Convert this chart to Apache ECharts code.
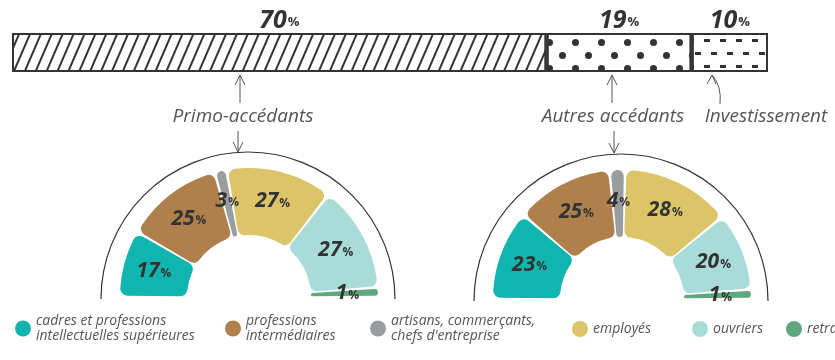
<!DOCTYPE html>
<html>
<head>
<meta charset="utf-8">
<script src="https://cdn.jsdelivr.net/npm/echarts@6/dist/echarts.min.js"></script>
<style>
  html, body { margin: 0; padding: 0; background: #fff; }
  #chart { width: 835px; height: 360px; }
</style>
</head>
<body>
<div id="chart"></div>
<script>
// Socio-professional categories of buyers
const categories = [
  'cadres et professions\nintellectuelles supérieures',
  'professions\nintermédiaires',
  'artisans, commerçants,\nchefs d\'entreprise',
  'employés',
  'ouvriers',
  'retraités'
];
// Shares (%) by category for each group of buyers
const primoValues = [17, 25, 3, 27, 27, 1];
const autresValues = [23, 25, 4, 28, 20, 1];

// Split of purchases by type of buyer (%)
const buyerTypes = ['Primo-accédants', 'Autres accédants', 'Investissement'];
const buyerShares = [70, 19, 10];

const colors = ['#10b5b0', '#b0804c', '#9a9d9f', '#dcc569', '#a9dcd9', '#5fa77f'];
const FONT = '"Open Sans", "Liberation Sans", sans-serif';
const INK = '#333';
const TEXT = '#555';

// Layout
const BAR = { left: 12, top: 33, width: 756, height: 39 };
const G1 = { cx: 249, cy: 297 };
const G2 = { cx: 622, cy: 299 };
const PIE_R = [62, 129];
const ARC_R = 147;

const pctRich = (big, small) => ({
  n: { fontFamily: FONT, fontSize: big, fontWeight: 'bold', fontStyle: 'italic', color: INK },
  p: { fontFamily: FONT, fontSize: small, fontWeight: 'bold', color: INK, padding: [0, 0, -4, 1] }
});

// Fill patterns for the stacked bar
const decals = [
  { symbol: 'rect', color: INK, dashArrayX: [10, 0], dashArrayY: [1.8, 7.5], rotation: -Math.PI / 2.7, symbolSize: 1 },
  { symbol: 'circle', color: INK, dashArrayX: [[7, 19], [0, 13, 7, 6]], dashArrayY: [7, 5.5], symbolSize: 1 },
  { symbol: 'rect', color: INK, dashArrayX: [[6, 10], [0, 7, 6, 3]], dashArrayY: [2.5, 9.5], symbolSize: 1 }
];

const barSeries = buyerTypes.map((name, i) => ({
  type: 'bar',
  name: name,
  stack: 'total',
  data: [buyerShares[i]],
  barWidth: BAR.height,
  silent: true,
  itemStyle: { color: '#fff', borderColor: INK, borderWidth: 2, decal: decals[i] },
  label: {
    show: true,
    position: 'top',
    distance: 0,
    formatter: p => '{n|' + p.value + '}{p|%}',
    rich: pctRich(25, 13)
  }
}));

function gauge(values, g) {
  return {
    type: 'pie',
    center: [g.cx, g.cy],
    radius: PIE_R,
    startAngle: 180,
    endAngle: 0,
    padAngle: 1.2,
    minAngle: 3,
    silent: true,
    itemStyle: { borderRadius: 7 },
    label: {
      show: true,
      position: 'inside',
      formatter: p => '{n|' + p.value + '}{p|%}',
      rich: pctRich(21, 12)
    },
    labelLine: { show: false },
    data: categories.map((c, i) => ({ name: c, value: values[i], itemStyle: { color: colors[i] } }))
  };
}

// Legend: one block per category
const legendLeft = [15, 225, 370, 572, 692, 786];
const legends = categories.map((c, i) => {
  const twoLines = c.indexOf('\n') >= 0;
  return {
    data: [c],
    left: legendLeft[i],
    top: twoLines ? 306 : 321,
    orient: 'horizontal',
    icon: 'circle',
    itemWidth: 16,
    itemHeight: 16,
    padding: 0,
    selectedMode: false,
    textStyle: {
      fontFamily: FONT,
      fontStyle: 'italic',
      fontSize: 14,
      lineHeight: 15,
      color: TEXT,
      padding: twoLines ? [15, 0, 0, 0] : 0
    }
  };
});

function label(text, x, y) {
  return {
    type: 'text', x: x, y: y, silent: true,
    style: {
      text: text, fill: TEXT, font: 'italic 19px ' + FONT,
      align: 'center', verticalAlign: 'middle', textAlign: 'center', textVerticalAlign: 'middle'
    }
  };
}
function arrowUp(x, y1, y2) {
  return [
    { type: 'line', silent: true, shape: { x1: x, y1: y1, x2: x, y2: y2 }, style: { stroke: TEXT, lineWidth: 1 } },
    { type: 'polyline', silent: true, shape: { points: [[x - 5, y2 + 10], [x, y2], [x + 5, y2 + 10]] }, style: { stroke: TEXT, lineWidth: 1, fill: null } }
  ];
}
function arrowDown(x, y1, y2) {
  return [
    { type: 'line', silent: true, shape: { x1: x, y1: y1, x2: x, y2: y2 }, style: { stroke: TEXT, lineWidth: 1 } },
    { type: 'polyline', silent: true, shape: { points: [[x - 5, y2 - 10], [x, y2], [x + 5, y2 - 10]] }, style: { stroke: TEXT, lineWidth: 1, fill: null } }
  ];
}
function outerArc(g) {
  return {
    type: 'arc', silent: true,
    shape: { cx: g.cx - 1, cy: g.cy + 2, r: ARC_R, startAngle: Math.PI, endAngle: 2 * Math.PI },
    style: { stroke: INK, lineWidth: 1.2, fill: null }
  };
}

const graphics = [
  outerArc(G1),
  outerArc(G2),
  label(buyerTypes[0], 243, 117),
  label(buyerTypes[1], 613, 117),
  label(buyerTypes[2], 766, 117),
  ...arrowUp(240, 103, 75),
  ...arrowDown(238, 131, 152),
  ...arrowUp(612, 103, 75),
  ...arrowDown(614, 131, 153),
  { type: 'bezierCurve', silent: true, shape: { x1: 720, y1: 104, cpx1: 722, cpy1: 86, x2: 712, y2: 75 }, style: { stroke: TEXT, lineWidth: 1, fill: null } },
  { type: 'polyline', silent: true, shape: { points: [[707, 84], [712, 75], [716, 84]] }, style: { stroke: TEXT, lineWidth: 1, fill: null } }
];

const chart = echarts.init(document.getElementById('chart'), null, { renderer: 'canvas' });
chart.setOption({
  animation: false,
  backgroundColor: '#fff',
  grid: { left: BAR.left, top: BAR.top, width: BAR.width, height: BAR.height, containLabel: false },
  xAxis: { type: 'value', min: 0, max: buyerShares.reduce((a, b) => a + b, 0), show: false },
  yAxis: { type: 'category', data: ['achats'], show: false },
  legend: legends,
  series: [...barSeries, gauge(primoValues, G1), gauge(autresValues, G2)],
  graphic: graphics
});
</script>
</body>
</html>
